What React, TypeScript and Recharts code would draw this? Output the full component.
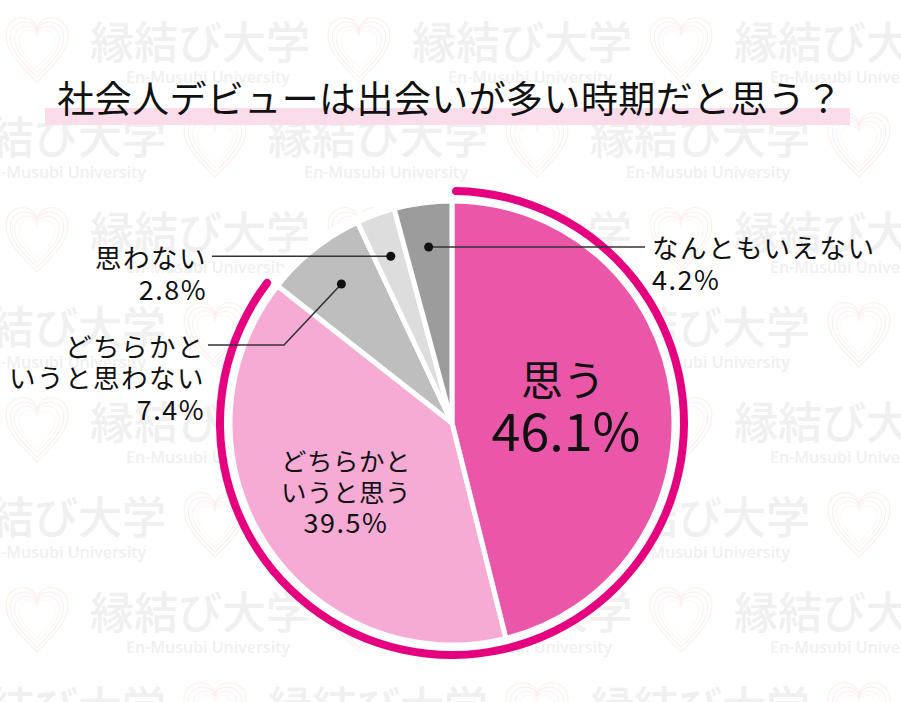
import React from 'react';
import { PieChart, Pie, Cell } from 'recharts';

// survey answers, clockwise from 12 o'clock
const categories = ['思う', 'どちらかというと思う', 'どちらかというと思わない', '思わない', 'なんともいえない'];
const shares = [46.1, 39.5, 7.4, 2.8, 4.2];
const labelText = [['思う'], ['どちらかと', 'いうと思う'], ['どちらかと', 'いうと思わない'], ['思わない'], ['なんともいえない']];
const positiveGroup = ['思う', 'どちらかというと思う'];
const title = '社会人デビューは出会いが多い時期だと思う？';

const sliceColors = ['#EB57A8', '#F6ABD5', '#BEBEBE', '#DDDDDD', '#9C9C9C'];
const RING_COLOR = '#E4007F';
const FONT = '"Noto Sans CJK JP", "Noto Sans", sans-serif';

const W = 901;
const H = 702;
const CX = 452;
const CY = 423;
const R = 222;

const pieData = categories.map((name, i) => ({ name, value: shares[i], lines: labelText[i] }));
const positiveTotal = pieData.filter((d) => positiveGroup.includes(d.name)).reduce((s, d) => s + d.value, 0);
const total = shares.reduce((s, v) => s + v, 0);
const ringData = [
  { name: 'positive', value: positiveTotal },
  { name: 'rest', value: total - positiveTotal },
];

const RAD = Math.PI / 180;
const polar = (cx: number, cy: number, r: number, angle: number) => ({
  x: cx + Math.cos(-angle * RAD) * r,
  y: cy + Math.sin(-angle * RAD) * r,
});

const txt = (x: number, y: number, s: string, size: number, anchor: string, key: string, spacing = 0) => (
  <text
    key={key}
    x={x}
    y={y}
    fontSize={size}
    fontFamily={FONT}
    fill="#111"
    textAnchor={anchor}
    dominantBaseline="central"
    letterSpacing={spacing}
  >
    {s}
  </text>
);

// label lines followed by the percentage
const block = (x: number, y0: number, step: number, lines: string[], pct: string, anchor: string, size = 26.5, sp = 1.5) => (
  <>
    {lines.map((s, i) => txt(x, y0 + i * step, s, size, anchor, String(i), sp))}
    {txt(x, y0 + lines.length * step, pct, 27, anchor, 'p', 1.5)}
  </>
);

function renderLabel(props: any) {
  const { cx, cy, midAngle, outerRadius } = props;
  const name = props.name ?? props.payload?.name;
  const idx = categories.indexOf(name);
  const entry = pieData[idx];
  const pct = `${entry.value.toFixed(1)}%`;
  const dot = polar(cx, cy, outerRadius * 0.8, midAngle);
  const lineProps = { stroke: '#333', strokeWidth: 1.6, fill: 'none' };

  if (idx === 0) {
    return (
      <g>
        {txt(cx + 111, cy - 46, entry.lines[0], 42, 'middle', 'a')}
        {txt(cx + 114, cy + 5, pct, 52, 'middle', 'b')}
      </g>
    );
  }
  if (idx === 1) {
    return <g>{block(cx - 106, cy + 36, 31, entry.lines, pct, 'middle', 25.5, 0.5)}</g>;
  }
  if (idx === 2) {
    const ey = cy - 78;
    return (
      <g>
        <polyline points={`${dot.x},${dot.y} ${cx - 168},${ey} ${cx - 244},${ey}`} {...lineProps} />
        <circle cx={dot.x} cy={dot.y} r={4.5} fill="#111" />
        {block(cx - 247, ey, 31.5, entry.lines, pct, 'end')}
      </g>
    );
  }
  if (idx === 3) {
    return (
      <g>
        <line x1={dot.x} y1={dot.y} x2={cx - 240} y2={dot.y} {...lineProps} />
        <circle cx={dot.x} cy={dot.y} r={4.5} fill="#111" />
        {block(cx - 245, dot.y, 32, entry.lines, pct, 'end')}
      </g>
    );
  }
  return (
    <g>
      <line x1={dot.x} y1={dot.y} x2={cx + 193} y2={dot.y} {...lineProps} />
      <circle cx={dot.x} cy={dot.y} r={4.5} fill="#111" />
      {block(cx + 200, dot.y, 32, entry.lines, pct, 'start')}
    </g>
  );
}

const heartPath =
  'M0,34 C-20,14 -31,2 -31,-13 C-31,-27 -18,-33 -8,-29 C-4,-27 -1,-23 0,-19 C1,-23 4,-27 8,-29 C18,-33 31,-27 31,-13 C31,2 20,14 0,34 Z';

function Watermark() {
  const items: React.ReactNode[] = [];
  for (let r = 0; r < 8; r++) {
    const y = 40 + r * 95;
    const x0 = r % 2 === 0 ? 90 : -54;
    for (let k = 0; k < 4; k++) {
      const x = x0 + k * 322;
      items.push(
        <g key={`${r}-${k}`}>
          <g transform={`translate(${x - 53},${y + 8})`} fill="none" strokeWidth={1.2}>
            <path d={heartPath} stroke="#FDF2EA" />
            <path d={heartPath} stroke="#FCEDEE" transform="scale(0.86)" />
            <path d={heartPath} stroke="#FCEDEE" transform="scale(0.72)" />
            <path d={heartPath} stroke="#FDF2EA" transform="scale(0.58)" />
          </g>
          <text x={x} y={y} fontSize={44} fontWeight={500} fontFamily={FONT} fill="#F0F0F0" dominantBaseline="central">
            縁結び大学
          </text>
          <text x={x + 36} y={y + 37} fontSize={16} fontWeight={600} fontFamily="'Open Sans', sans-serif" fill="#F0F0F0" dominantBaseline="central">
            En-Musubi University
          </text>
        </g>
      );
    }
  }
  return <g>{items}</g>;
}

export default function App() {
  return (
    <div style={{ position: 'absolute', left: 0, top: 0, width: W, height: H, background: '#fff', overflow: 'hidden' }}>
      <svg width={W} height={H} style={{ position: 'absolute', left: 0, top: 0 }}>
        <Watermark />
        <rect x={45} y={108} width={805} height={17} fill="#FADCEB" />
        <text
          x={450}
          y={97}
          fontSize={37}
          letterSpacing={0.4}
          fontFamily={FONT}
          fill="#111"
          textAnchor="middle"
          dominantBaseline="central"
        >
          {title}
        </text>
      </svg>
      <div style={{ position: 'absolute', left: 0, top: 0 }}>
        <PieChart width={W} height={H} margin={{ top: 0, right: 0, bottom: 0, left: 0 }}>
          <Pie
            data={[{ name: 'bg', value: total }]}
            dataKey="value"
            cx={CX}
            cy={CY}
            outerRadius={229}
            fill="#fff"
            stroke="none"
            isAnimationActive={false}
          />
          <Pie
            data={ringData}
            dataKey="value"
            cx={CX}
            cy={CY}
            startAngle={90}
            endAngle={-270}
            innerRadius={228}
            outerRadius={236}
            cornerRadius={4}
            stroke="none"
            isAnimationActive={false}
          >
            {ringData.map((d, i) => (
              <Cell key={i} fill={i === 0 ? RING_COLOR : 'transparent'} />
            ))}
          </Pie>
          <Pie
            data={pieData}
            dataKey="value"
            nameKey="name"
            cx={CX}
            cy={CY}
            startAngle={90}
            endAngle={-270}
            outerRadius={R}
            stroke="#fff"
            strokeWidth={5}
            label={renderLabel}
            labelLine={false}
            isAnimationActive={false}
          >
            {pieData.map((d, i) => (
              <Cell key={i} fill={sliceColors[i]} />
            ))}
          </Pie>
        </PieChart>
      </div>
    </div>
  );
}
